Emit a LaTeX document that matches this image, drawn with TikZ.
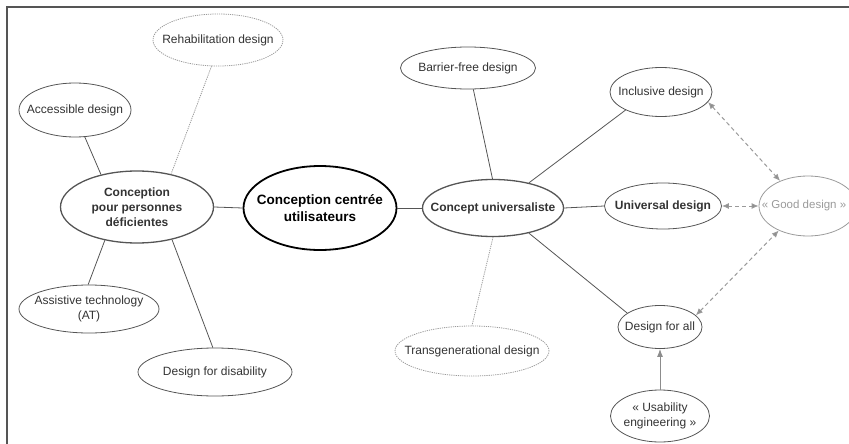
\documentclass[tikz,border=0pt]{standalone}
\usepackage{fontspec}
\setmainfont{Liberation Sans}
\usetikzlibrary{shapes.geometric,arrows.meta}
\definecolor{ln}{HTML}{555555}
\definecolor{lgray}{HTML}{9A9A9A}
\definecolor{tx}{HTML}{333333}
\definecolor{ag}{HTML}{8C8C8C}
\begin{document}
\begin{tikzpicture}[x=1pt,y=-1pt,
  ell/.style={ellipse,draw=ln,line width=0.8pt,inner sep=0pt},
  dotell/.style={ellipse,draw=lgray,dash pattern=on 1.2pt off 1pt,line width=0.8pt,inner sep=0pt},
  txt/.style={font=\fontsize{12}{15.5}\selectfont,text=tx,align=center},
  btxt/.style={font=\fontsize{12}{15}\selectfont\bfseries,text=tx,align=center},
  con/.style={draw=ln,line width=0.8pt},
  dotcon/.style={draw=lgray,dash pattern=on 1.2pt off 1pt,line width=0.8pt},
  darr/.style={draw=lgray,line width=1pt,dash pattern=on 4pt off 3pt,
    {Latex[length=7pt,width=6pt,fill=ag]}-{Latex[length=7pt,width=6pt,fill=ag]}},
  sarr/.style={draw=ag,line width=1pt,-{Latex[length=8pt,width=6pt]}},
  frame/.style={draw=ln,line width=1.6pt}]
\useasboundingbox (0,0) rectangle (849,444);
\coordinate (fbl) at (7,444);
\coordinate (ftl) at (7,7);
\coordinate (ftr) at (849,7);
\draw[frame] (fbl) -- (ftl) -- (ftr);

% left cluster
\node[dotell,minimum width=130pt,minimum height=52pt,label={[txt]center:Rehabilitation design}] (reh) at (218,40) {};
\node[ell,minimum width=112pt,minimum height=54pt,label={[txt]center:Accessible design}] (acc) at (75,110) {};
\node[ell,line width=1.3pt,minimum width=153pt,minimum height=72pt,label={[btxt]center:Conception\\pour personnes\\déficientes}] (cp) at (137,207) {};
\node[ell,minimum width=140pt,minimum height=48pt,label={[txt]center:Assistive technology\\(AT)}] (at) at (89,309) {};
\node[ell,minimum width=154pt,minimum height=48pt,label={[txt]center:Design for disability}] (dfd) at (215,372) {};

% centre
\node[ellipse,draw=black,line width=1.8pt,inner sep=0pt,minimum width=153pt,minimum height=84pt,
  label={[font=\fontsize{13.5}{17}\selectfont\bfseries,align=center]center:Conception centrée\\utilisateurs}] (cc) at (320,208) {};

% right cluster
\node[ell,line width=1.3pt,minimum width=141pt,minimum height=57pt,label={[btxt]center:Concept universaliste}] (cu) at (493,208) {};
\node[ell,minimum width=135pt,minimum height=42pt,label={[txt]center:Barrier-free design}] (bf) at (468,68) {};
\node[dotell,minimum width=154pt,minimum height=50pt,label={[txt]center:Transgenerational design}] (tg) at (472,351) {};
\node[ell,minimum width=102pt,minimum height=49pt,label={[txt]center:Inclusive design}] (inc) at (661,92) {};
\node[ell,minimum width=117pt,minimum height=46pt,label={[btxt]center:Universal design}] (uni) at (663,206) {};
\node[ell,minimum width=84pt,minimum height=43pt,label={[txt]center:Design for all}] (dfa) at (660,327) {};
\node[ell,minimum width=99pt,minimum height=52pt,label={[txt]center:«~Usability\\engineering~»}] (use) at (660,416) {};
\node[ellipse,draw=lgray,line width=0.8pt,inner sep=0pt,minimum width=98pt,minimum height=60pt] (good) at (808,206) {};
\node[font=\fontsize{11.5}{14}\selectfont,text=lgray,inner sep=0pt,anchor=west] (goodt) at ([xshift=3pt]good.west) {«~Good design~»};

% connectors left
\draw[con] (acc.-70) -- (cp.138);
\draw[dotcon] (reh.-104) -- (cp.44);
\draw[con] (cp.-134) -- (at.92);
\draw[con] (cp.-43) -- (dfd.95);
\draw[con] (cp.east) -- (cc.west);
\draw[con] (cc.east) -- (cu.west);

% connectors right
\draw[con] (bf.-76) -- (cu.91);
\draw[dotcon] (cu.-90) -- (tg.90);
\draw[con] (cu.35) -- (inc.-153);
\draw[con] (cu.east) -- (uni.west);
\draw[con] (cu.-35) -- (dfa.157);

% arrows
\draw[darr] (inc.-12) -- (good.138);
\draw[darr] (uni.east) -- (good.west);
\draw[darr] (dfa.18) -- (good.-140);
\draw[sarr] (use.north) -- (dfa.south);
\end{tikzpicture}
\end{document}
